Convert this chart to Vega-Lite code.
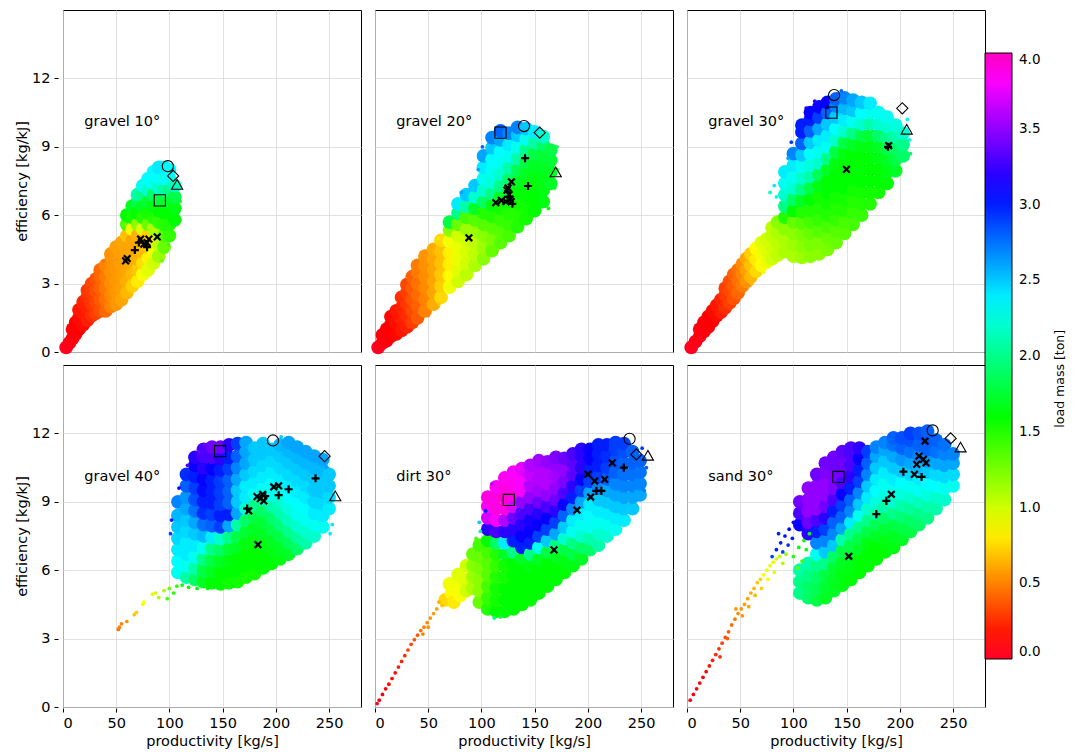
{
"$schema":"https://vega.github.io/schema/vega-lite/v6.json",
"background":"white",
"padding":{"left":14,"top":9,"right":5,"bottom":5},
"title":{"text":"load mass [ton]","orient":"right","angle":-90,"anchor":"middle","offset":6,"fontSize":12.5,"font":"DejaVu Sans","fontWeight":"normal","color":"black","baseline":"middle"},
"data":{"values":[
{"p":"a","x":20,"y":10.1,"t":"gravel 10°"},{"p":"b","x":20,"y":10.1,"t":"gravel 20°"},{"p":"c","x":20,"y":10.1,"t":"gravel 30°"},{"p":"d","x":20,"y":10.1,"t":"gravel 40°"},{"p":"e","x":20,"y":10.1,"t":"dirt 30°"},{"p":"f","x":20,"y":10.1,"t":"sand 30°"},
{"p":"a","x":3,"y":0.2,"m":0.03},{"p":"a","x":6,"y":0.4,"m":0.05},{"p":"a","x":9,"y":0.6,"m":0.08},{"p":"a","x":9,"y":1.0,"m":0.1},{"p":"a","x":12,"y":0.8,"m":0.1},{"p":"a","x":12,"y":1.3,"m":0.12},
{"p":"a","x":15,"y":1.0,"m":0.12},{"p":"a","x":15,"y":1.5,"m":0.15},{"p":"a","x":15,"y":1.85,"m":0.18},
{"p":"a","x":19,"y":1.2,"m":0.15},{"p":"a","x":19,"y":1.7,"m":0.18},{"p":"a","x":19,"y":2.2,"m":0.22},
{"p":"a","x":23,"y":1.4,"m":0.2},{"p":"a","x":23,"y":1.9,"m":0.22},{"p":"a","x":23,"y":2.4,"m":0.26},{"p":"a","x":23,"y":2.7,"m":0.28},
{"p":"a","x":27,"y":1.6,"m":0.25},{"p":"a","x":27,"y":2.1,"m":0.28},{"p":"a","x":27,"y":2.6,"m":0.3},{"p":"a","x":27,"y":3.0,"m":0.32},
{"p":"a","x":31,"y":1.7,"m":0.3},{"p":"a","x":31,"y":2.2,"m":0.32},{"p":"a","x":31,"y":2.7,"m":0.35},{"p":"a","x":31,"y":3.2,"m":0.36},
{"p":"a","x":35,"y":1.8,"m":0.35},{"p":"a","x":35,"y":2.3,"m":0.38},{"p":"a","x":35,"y":2.8,"m":0.4},{"p":"a","x":35,"y":3.3,"m":0.42},{"p":"a","x":35,"y":3.6,"m":0.42},
{"p":"a","x":40,"y":1.8,"m":0.42},{"p":"a","x":40,"y":2.3,"m":0.45},{"p":"a","x":40,"y":2.8,"m":0.47},{"p":"a","x":40,"y":3.3,"m":0.48},{"p":"a","x":40,"y":3.8,"m":0.5},
{"p":"a","x":45,"y":2.0,"m":0.5},{"p":"a","x":45,"y":2.5,"m":0.52},{"p":"a","x":45,"y":3.0,"m":0.53},{"p":"a","x":45,"y":3.5,"m":0.54},{"p":"a","x":45,"y":4.0,"m":0.55},{"p":"a","x":45,"y":4.3,"m":0.55},
{"p":"a","x":50,"y":2.1,"m":0.56},{"p":"a","x":50,"y":2.6,"m":0.56},{"p":"a","x":50,"y":3.1,"m":0.56},{"p":"a","x":50,"y":3.6,"m":0.56},{"p":"a","x":50,"y":4.1,"m":0.56},{"p":"a","x":50,"y":4.6,"m":0.58},
{"p":"a","x":55,"y":2.3,"m":0.6},{"p":"a","x":55,"y":2.8,"m":0.58},{"p":"a","x":55,"y":3.3,"m":0.58},{"p":"a","x":55,"y":3.8,"m":0.58},{"p":"a","x":55,"y":4.3,"m":0.58},{"p":"a","x":55,"y":4.8,"m":0.6},
{"p":"a","x":60,"y":2.6,"m":0.66},{"p":"a","x":60,"y":3.1,"m":0.62},{"p":"a","x":60,"y":3.6,"m":0.6},{"p":"a","x":60,"y":4.1,"m":0.6},{"p":"a","x":60,"y":4.6,"m":0.6},{"p":"a","x":60,"y":5.1,"m":0.68},{"p":"a","x":60,"y":5.6,"m":1.4},{"p":"a","x":60,"y":6.0,"m":1.6},
{"p":"a","x":65,"y":2.9,"m":0.72},{"p":"a","x":65,"y":3.4,"m":0.66},{"p":"a","x":65,"y":3.9,"m":0.62},{"p":"a","x":65,"y":4.4,"m":0.6},{"p":"a","x":65,"y":4.9,"m":0.6},{"p":"a","x":65,"y":5.4,"m":0.9},{"p":"a","x":65,"y":5.9,"m":1.55},{"p":"a","x":65,"y":6.4,"m":1.7},
{"p":"a","x":70,"y":3.1,"m":0.8},{"p":"a","x":70,"y":3.6,"m":0.7},{"p":"a","x":70,"y":4.1,"m":0.64},{"p":"a","x":70,"y":4.6,"m":0.6},{"p":"a","x":70,"y":5.1,"m":0.64},{"p":"a","x":70,"y":5.6,"m":1.2},{"p":"a","x":70,"y":6.1,"m":1.6},{"p":"a","x":70,"y":6.6,"m":1.8},{"p":"a","x":70,"y":6.9,"m":2.1},
{"p":"a","x":75,"y":3.4,"m":0.88},{"p":"a","x":75,"y":3.9,"m":0.76},{"p":"a","x":75,"y":4.4,"m":0.66},{"p":"a","x":75,"y":4.9,"m":0.62},{"p":"a","x":75,"y":5.4,"m":0.95},{"p":"a","x":75,"y":5.9,"m":1.5},{"p":"a","x":75,"y":6.4,"m":1.7},{"p":"a","x":75,"y":6.9,"m":2.0},{"p":"a","x":75,"y":7.3,"m":2.3},
{"p":"a","x":80,"y":3.6,"m":0.95},{"p":"a","x":80,"y":4.1,"m":0.82},{"p":"a","x":80,"y":4.6,"m":0.7},{"p":"a","x":80,"y":5.1,"m":0.72},{"p":"a","x":80,"y":5.6,"m":1.3},{"p":"a","x":80,"y":6.1,"m":1.55},{"p":"a","x":80,"y":6.6,"m":1.75},{"p":"a","x":80,"y":7.1,"m":2.2},{"p":"a","x":80,"y":7.6,"m":2.35},
{"p":"a","x":85,"y":3.9,"m":1.0},{"p":"a","x":85,"y":4.4,"m":0.9},{"p":"a","x":85,"y":4.9,"m":0.8},{"p":"a","x":85,"y":5.4,"m":1.1},{"p":"a","x":85,"y":5.9,"m":1.5},{"p":"a","x":85,"y":6.4,"m":1.65},{"p":"a","x":85,"y":6.9,"m":1.9},{"p":"a","x":85,"y":7.4,"m":2.3},{"p":"a","x":85,"y":7.9,"m":2.35},
{"p":"a","x":90,"y":4.2,"m":1.15},{"p":"a","x":90,"y":4.7,"m":1.05},{"p":"a","x":90,"y":5.2,"m":1.1},{"p":"a","x":90,"y":5.7,"m":1.45},{"p":"a","x":90,"y":6.2,"m":1.6},{"p":"a","x":90,"y":6.7,"m":1.8},{"p":"a","x":90,"y":7.2,"m":2.2},{"p":"a","x":90,"y":7.7,"m":2.35},{"p":"a","x":90,"y":8.1,"m":2.4},
{"p":"a","x":95,"y":4.6,"m":1.3},{"p":"a","x":95,"y":5.1,"m":1.35},{"p":"a","x":95,"y":5.6,"m":1.5},{"p":"a","x":95,"y":6.1,"m":1.6},{"p":"a","x":95,"y":6.6,"m":1.75},{"p":"a","x":95,"y":7.1,"m":2.1},{"p":"a","x":95,"y":7.6,"m":2.3},{"p":"a","x":95,"y":8.1,"m":2.4},
{"p":"a","x":100,"y":5.1,"m":1.45},{"p":"a","x":100,"y":5.6,"m":1.5},{"p":"a","x":100,"y":6.1,"m":1.6},{"p":"a","x":100,"y":6.6,"m":1.7},{"p":"a","x":100,"y":7.1,"m":2.0},{"p":"a","x":100,"y":7.6,"m":2.3},{"p":"a","x":100,"y":8.0,"m":2.35},
{"p":"a","x":105,"y":5.8,"m":1.6},{"p":"a","x":105,"y":6.3,"m":1.65},{"p":"a","x":105,"y":6.8,"m":1.8},{"p":"a","x":105,"y":7.3,"m":2.15},
{"p":"a","x":38,"y":4.0,"n":0.45},{"p":"a","x":52,"y":4.9,"n":0.6},{"p":"a","x":57,"y":5.6,"n":1.3},{"p":"a","x":110,"y":6.6,"n":1.7},{"p":"a","x":99,"y":4.7,"n":1.4},{"p":"a","x":93,"y":4.0,"n":1.3},
{"p":"b","x":3,"y":0.2,"m":0.03},{"p":"b","x":7,"y":0.4,"m":0.06},{"p":"b","x":7,"y":0.75,"m":0.08},{"p":"b","x":11,"y":0.5,"m":0.08},{"p":"b","x":11,"y":1.0,"m":0.1},
{"p":"b","x":15,"y":0.7,"m":0.1},{"p":"b","x":15,"y":1.2,"m":0.12},{"p":"b","x":15,"y":1.55,"m":0.14},
{"p":"b","x":20,"y":0.8,"m":0.14},{"p":"b","x":20,"y":1.3,"m":0.16},{"p":"b","x":20,"y":1.8,"m":0.18},
{"p":"b","x":25,"y":0.95,"m":0.18},{"p":"b","x":25,"y":1.45,"m":0.2},{"p":"b","x":25,"y":1.95,"m":0.22},{"p":"b","x":25,"y":2.4,"m":0.25},
{"p":"b","x":30,"y":1.1,"m":0.22},{"p":"b","x":30,"y":1.6,"m":0.25},{"p":"b","x":30,"y":2.1,"m":0.28},{"p":"b","x":30,"y":2.6,"m":0.3},{"p":"b","x":30,"y":2.95,"m":0.32},
{"p":"b","x":35,"y":1.3,"m":0.3},{"p":"b","x":35,"y":1.8,"m":0.33},{"p":"b","x":35,"y":2.3,"m":0.36},{"p":"b","x":35,"y":2.8,"m":0.38},{"p":"b","x":35,"y":3.3,"m":0.4},
{"p":"b","x":40,"y":1.5,"m":0.38},{"p":"b","x":40,"y":2.0,"m":0.4},{"p":"b","x":40,"y":2.5,"m":0.43},{"p":"b","x":40,"y":3.0,"m":0.45},{"p":"b","x":40,"y":3.5,"m":0.47},{"p":"b","x":40,"y":3.8,"m":0.48},
{"p":"b","x":47,"y":1.8,"m":0.5},{"p":"b","x":47,"y":2.3,"m":0.5},{"p":"b","x":47,"y":2.8,"m":0.52},{"p":"b","x":47,"y":3.3,"m":0.53},{"p":"b","x":47,"y":3.8,"m":0.54},{"p":"b","x":47,"y":4.2,"m":0.55},
{"p":"b","x":55,"y":2.1,"m":0.62},{"p":"b","x":55,"y":2.6,"m":0.6},{"p":"b","x":55,"y":3.1,"m":0.6},{"p":"b","x":55,"y":3.6,"m":0.6},{"p":"b","x":55,"y":4.1,"m":0.6},{"p":"b","x":55,"y":4.5,"m":0.62},
{"p":"b","x":62,"y":2.4,"m":0.75},{"p":"b","x":62,"y":2.9,"m":0.72},{"p":"b","x":62,"y":3.4,"m":0.7},{"p":"b","x":62,"y":3.9,"m":0.68},{"p":"b","x":62,"y":4.4,"m":0.68},{"p":"b","x":62,"y":4.9,"m":0.75},
{"p":"b","x":70,"y":2.85,"m":0.9},{"p":"b","x":70,"y":3.35,"m":0.85},{"p":"b","x":70,"y":3.85,"m":0.82},{"p":"b","x":70,"y":4.35,"m":0.82},{"p":"b","x":70,"y":4.85,"m":0.9},{"p":"b","x":70,"y":5.35,"m":1.2},{"p":"b","x":70,"y":5.7,"m":1.8},
{"p":"b","x":78,"y":3.1,"m":1.0},{"p":"b","x":78,"y":3.6,"m":0.95},{"p":"b","x":78,"y":4.1,"m":0.92},{"p":"b","x":78,"y":4.6,"m":0.92},{"p":"b","x":78,"y":5.1,"m":1.0},{"p":"b","x":78,"y":5.6,"m":1.3},{"p":"b","x":78,"y":6.1,"m":2.0},{"p":"b","x":78,"y":6.5,"m":2.4},
{"p":"b","x":86,"y":3.4,"m":1.05},{"p":"b","x":86,"y":3.9,"m":1.0},{"p":"b","x":86,"y":4.4,"m":0.98},{"p":"b","x":86,"y":4.9,"m":1.0},{"p":"b","x":86,"y":5.4,"m":1.15},{"p":"b","x":86,"y":5.9,"m":1.4},{"p":"b","x":86,"y":6.4,"m":2.1},{"p":"b","x":86,"y":6.9,"m":2.5},
{"p":"b","x":94,"y":3.8,"m":1.1},{"p":"b","x":94,"y":4.3,"m":1.05},{"p":"b","x":94,"y":4.8,"m":1.05},{"p":"b","x":94,"y":5.3,"m":1.15},{"p":"b","x":94,"y":5.8,"m":1.35},{"p":"b","x":94,"y":6.3,"m":1.7},{"p":"b","x":94,"y":6.8,"m":2.2},{"p":"b","x":94,"y":7.3,"m":2.5},
{"p":"b","x":102,"y":4.1,"m":1.2},{"p":"b","x":102,"y":4.6,"m":1.15},{"p":"b","x":102,"y":5.1,"m":1.2},{"p":"b","x":102,"y":5.6,"m":1.35},{"p":"b","x":102,"y":6.1,"m":1.5},{"p":"b","x":102,"y":6.6,"m":1.9},{"p":"b","x":102,"y":7.1,"m":2.2},{"p":"b","x":102,"y":7.6,"m":2.3},{"p":"b","x":102,"y":8.1,"m":2.4},{"p":"b","x":102,"y":8.6,"m":2.6},
{"p":"b","x":110,"y":4.45,"m":1.3},{"p":"b","x":110,"y":4.95,"m":1.25},{"p":"b","x":110,"y":5.45,"m":1.35},{"p":"b","x":110,"y":5.95,"m":1.5},{"p":"b","x":110,"y":6.45,"m":1.65},{"p":"b","x":110,"y":6.95,"m":2.0},{"p":"b","x":110,"y":7.45,"m":2.25},{"p":"b","x":110,"y":7.95,"m":2.3},{"p":"b","x":110,"y":8.45,"m":2.35},{"p":"b","x":110,"y":8.95,"m":2.5},{"p":"b","x":110,"y":9.4,"m":2.7},
{"p":"b","x":118,"y":4.8,"m":1.35},{"p":"b","x":118,"y":5.3,"m":1.35},{"p":"b","x":118,"y":5.8,"m":1.45},{"p":"b","x":118,"y":6.3,"m":1.55},{"p":"b","x":118,"y":6.8,"m":1.7},{"p":"b","x":118,"y":7.3,"m":2.0},{"p":"b","x":118,"y":7.8,"m":2.2},{"p":"b","x":118,"y":8.3,"m":2.3},{"p":"b","x":118,"y":8.8,"m":2.35},{"p":"b","x":118,"y":9.3,"m":2.6},{"p":"b","x":118,"y":9.7,"m":2.8},
{"p":"b","x":126,"y":5.1,"m":1.4},{"p":"b","x":126,"y":5.6,"m":1.45},{"p":"b","x":126,"y":6.1,"m":1.5},{"p":"b","x":126,"y":6.6,"m":1.6},{"p":"b","x":126,"y":7.1,"m":1.7},{"p":"b","x":126,"y":7.6,"m":1.9},{"p":"b","x":126,"y":8.1,"m":2.1},{"p":"b","x":126,"y":8.6,"m":2.3},{"p":"b","x":126,"y":9.1,"m":2.4},{"p":"b","x":126,"y":9.6,"m":2.7},
{"p":"b","x":134,"y":5.5,"m":1.5},{"p":"b","x":134,"y":6.0,"m":1.5},{"p":"b","x":134,"y":6.5,"m":1.55},{"p":"b","x":134,"y":7.0,"m":1.6},{"p":"b","x":134,"y":7.5,"m":1.7},{"p":"b","x":134,"y":8.0,"m":1.85},{"p":"b","x":134,"y":8.5,"m":2.1},{"p":"b","x":134,"y":9.0,"m":2.3},{"p":"b","x":134,"y":9.5,"m":2.5},{"p":"b","x":134,"y":9.85,"m":2.7},
{"p":"b","x":142,"y":5.85,"m":1.55},{"p":"b","x":142,"y":6.35,"m":1.55},{"p":"b","x":142,"y":6.85,"m":1.6},{"p":"b","x":142,"y":7.35,"m":1.65},{"p":"b","x":142,"y":7.85,"m":1.7},{"p":"b","x":142,"y":8.35,"m":1.8},{"p":"b","x":142,"y":8.85,"m":2.0},{"p":"b","x":142,"y":9.35,"m":2.3},{"p":"b","x":142,"y":9.8,"m":2.5},
{"p":"b","x":150,"y":6.2,"m":1.6},{"p":"b","x":150,"y":6.7,"m":1.6},{"p":"b","x":150,"y":7.2,"m":1.6},{"p":"b","x":150,"y":7.7,"m":1.65},{"p":"b","x":150,"y":8.2,"m":1.7},{"p":"b","x":150,"y":8.7,"m":1.8},{"p":"b","x":150,"y":9.2,"m":2.1},{"p":"b","x":150,"y":9.65,"m":2.4},
{"p":"b","x":158,"y":6.6,"m":1.65},{"p":"b","x":158,"y":7.1,"m":1.65},{"p":"b","x":158,"y":7.6,"m":1.65},{"p":"b","x":158,"y":8.1,"m":1.7},{"p":"b","x":158,"y":8.6,"m":1.75},{"p":"b","x":158,"y":9.1,"m":1.9},{"p":"b","x":158,"y":9.45,"m":2.2},
{"p":"b","x":165,"y":7.4,"m":1.7},{"p":"b","x":165,"y":7.9,"m":1.7},{"p":"b","x":165,"y":8.4,"m":1.75},{"p":"b","x":165,"y":8.85,"m":1.8},
{"p":"b","x":60,"y":5.0,"n":0.8},{"p":"b","x":67,"y":5.8,"n":1.8},{"p":"b","x":74,"y":6.4,"n":2.4},{"p":"b","x":81,"y":7.0,"n":2.6},{"p":"b","x":97,"y":8.0,"n":2.6},{"p":"b","x":101,"y":9.0,"n":2.8},{"p":"b","x":171,"y":8.0,"n":1.7},{"p":"b","x":171,"y":9.0,"n":1.8},{"p":"b","x":169,"y":7.2,"n":1.7},{"p":"b","x":163,"y":6.3,"n":1.6},{"p":"b","x":50,"y":1.6,"n":0.5},{"p":"b","x":60,"y":2.1,"n":0.7},
{"p":"c","x":4,"y":0.2,"m":0.03},{"p":"c","x":8,"y":0.45,"m":0.05},{"p":"c","x":12,"y":0.7,"m":0.06},{"p":"c","x":12,"y":1.0,"m":0.08},{"p":"c","x":16,"y":0.9,"m":0.08},{"p":"c","x":16,"y":1.3,"m":0.1},
{"p":"c","x":20,"y":1.1,"m":0.1},{"p":"c","x":20,"y":1.55,"m":0.12},{"p":"c","x":24,"y":1.35,"m":0.12},{"p":"c","x":24,"y":1.8,"m":0.15},{"p":"c","x":28,"y":1.6,"m":0.15},{"p":"c","x":28,"y":2.05,"m":0.18},
{"p":"c","x":32,"y":1.75,"m":0.2},{"p":"c","x":32,"y":2.3,"m":0.22},{"p":"c","x":36,"y":1.95,"m":0.25},{"p":"c","x":36,"y":2.5,"m":0.28},{"p":"c","x":36,"y":2.8,"m":0.3},
{"p":"c","x":40,"y":2.15,"m":0.3},{"p":"c","x":40,"y":2.7,"m":0.33},{"p":"c","x":40,"y":3.1,"m":0.35},{"p":"c","x":44,"y":2.35,"m":0.36},{"p":"c","x":44,"y":2.85,"m":0.38},{"p":"c","x":44,"y":3.4,"m":0.4},
{"p":"c","x":48,"y":2.6,"m":0.42},{"p":"c","x":48,"y":3.1,"m":0.44},{"p":"c","x":48,"y":3.6,"m":0.45},{"p":"c","x":52,"y":2.9,"m":0.48},{"p":"c","x":52,"y":3.4,"m":0.5},{"p":"c","x":52,"y":3.85,"m":0.52},
{"p":"c","x":56,"y":3.1,"m":0.55},{"p":"c","x":56,"y":3.6,"m":0.58},{"p":"c","x":56,"y":4.1,"m":0.6},{"p":"c","x":60,"y":3.3,"m":0.65},{"p":"c","x":60,"y":3.8,"m":0.68},{"p":"c","x":60,"y":4.3,"m":0.72},
{"p":"c","x":65,"y":3.55,"m":0.75},{"p":"c","x":65,"y":4.05,"m":0.8},{"p":"c","x":65,"y":4.55,"m":0.85},{"p":"c","x":70,"y":3.8,"m":0.85},{"p":"c","x":70,"y":4.3,"m":0.9},{"p":"c","x":70,"y":4.8,"m":0.95},
{"p":"c","x":75,"y":3.95,"m":0.92},{"p":"c","x":75,"y":4.45,"m":0.95},{"p":"c","x":75,"y":4.95,"m":1.0},{"p":"c","x":80,"y":4.1,"m":1.0},{"p":"c","x":80,"y":4.6,"m":1.0},{"p":"c","x":80,"y":5.1,"m":1.05},{"p":"c","x":80,"y":5.45,"m":1.05},
{"p":"c","x":85,"y":4.25,"m":1.05},{"p":"c","x":85,"y":4.75,"m":1.05},{"p":"c","x":85,"y":5.25,"m":1.1},{"p":"c","x":85,"y":5.7,"m":1.2},
{"p":"c","x":92,"y":4.4,"m":1.1},{"p":"c","x":92,"y":4.9,"m":1.1},{"p":"c","x":92,"y":5.4,"m":1.2},{"p":"c","x":92,"y":5.9,"m":1.5},{"p":"c","x":92,"y":6.4,"m":2.0},{"p":"c","x":92,"y":6.9,"m":2.2},{"p":"c","x":92,"y":7.4,"m":2.3},{"p":"c","x":92,"y":7.9,"m":2.4},
{"p":"c","x":100,"y":4.2,"m":1.1},{"p":"c","x":100,"y":4.7,"m":1.15},{"p":"c","x":100,"y":5.2,"m":1.2},{"p":"c","x":100,"y":5.7,"m":1.3},{"p":"c","x":100,"y":6.2,"m":1.6},{"p":"c","x":100,"y":6.7,"m":1.9},{"p":"c","x":100,"y":7.2,"m":2.2},{"p":"c","x":100,"y":7.7,"m":2.3},{"p":"c","x":100,"y":8.2,"m":2.4},{"p":"c","x":100,"y":8.7,"m":2.7},
{"p":"c","x":108,"y":4.15,"m":1.15},{"p":"c","x":108,"y":4.65,"m":1.2},{"p":"c","x":108,"y":5.15,"m":1.25},{"p":"c","x":108,"y":5.65,"m":1.35},{"p":"c","x":108,"y":6.15,"m":1.5},{"p":"c","x":108,"y":6.65,"m":1.7},{"p":"c","x":108,"y":7.15,"m":2.0},{"p":"c","x":108,"y":7.65,"m":2.2},{"p":"c","x":108,"y":8.15,"m":2.3},{"p":"c","x":108,"y":8.65,"m":2.5},{"p":"c","x":108,"y":9.15,"m":2.8},{"p":"c","x":108,"y":9.65,"m":3.0},{"p":"c","x":108,"y":9.95,"m":3.0},
{"p":"c","x":116,"y":4.2,"m":1.2},{"p":"c","x":116,"y":4.7,"m":1.25},{"p":"c","x":116,"y":5.2,"m":1.3},{"p":"c","x":116,"y":5.7,"m":1.4},{"p":"c","x":116,"y":6.2,"m":1.5},{"p":"c","x":116,"y":6.7,"m":1.6},{"p":"c","x":116,"y":7.2,"m":1.8},{"p":"c","x":116,"y":7.7,"m":2.1},{"p":"c","x":116,"y":8.2,"m":2.25},{"p":"c","x":116,"y":8.7,"m":2.35},{"p":"c","x":116,"y":9.2,"m":2.5},{"p":"c","x":116,"y":9.7,"m":2.8},{"p":"c","x":116,"y":10.2,"m":3.0},{"p":"c","x":116,"y":10.5,"m":3.1},
{"p":"c","x":124,"y":4.3,"m":1.2},{"p":"c","x":124,"y":4.8,"m":1.25},{"p":"c","x":124,"y":5.3,"m":1.35},{"p":"c","x":124,"y":5.8,"m":1.45},{"p":"c","x":124,"y":6.3,"m":1.5},{"p":"c","x":124,"y":6.8,"m":1.55},{"p":"c","x":124,"y":7.3,"m":1.65},{"p":"c","x":124,"y":7.8,"m":1.85},{"p":"c","x":124,"y":8.3,"m":2.2},{"p":"c","x":124,"y":8.8,"m":2.3},{"p":"c","x":124,"y":9.3,"m":2.4},{"p":"c","x":124,"y":9.8,"m":2.6},{"p":"c","x":124,"y":10.3,"m":2.9},{"p":"c","x":124,"y":10.75,"m":3.1},
{"p":"c","x":132,"y":4.5,"m":1.25},{"p":"c","x":132,"y":5.0,"m":1.3},{"p":"c","x":132,"y":5.5,"m":1.4},{"p":"c","x":132,"y":6.0,"m":1.5},{"p":"c","x":132,"y":6.5,"m":1.55},{"p":"c","x":132,"y":7.0,"m":1.6},{"p":"c","x":132,"y":7.5,"m":1.6},{"p":"c","x":132,"y":8.0,"m":1.7},{"p":"c","x":132,"y":8.5,"m":2.0},{"p":"c","x":132,"y":9.0,"m":2.3},{"p":"c","x":132,"y":9.5,"m":2.4},{"p":"c","x":132,"y":10.0,"m":2.5},{"p":"c","x":132,"y":10.5,"m":2.8},{"p":"c","x":132,"y":10.95,"m":3.1},
{"p":"c","x":140,"y":4.8,"m":1.3},{"p":"c","x":140,"y":5.3,"m":1.35},{"p":"c","x":140,"y":5.8,"m":1.45},{"p":"c","x":140,"y":6.3,"m":1.5},{"p":"c","x":140,"y":6.8,"m":1.55},{"p":"c","x":140,"y":7.3,"m":1.6},{"p":"c","x":140,"y":7.8,"m":1.6},{"p":"c","x":140,"y":8.3,"m":1.65},{"p":"c","x":140,"y":8.8,"m":1.8},{"p":"c","x":140,"y":9.3,"m":2.2},{"p":"c","x":140,"y":9.8,"m":2.35},{"p":"c","x":140,"y":10.3,"m":2.5},{"p":"c","x":140,"y":10.8,"m":2.7},{"p":"c","x":140,"y":11.1,"m":2.8},
{"p":"c","x":148,"y":5.2,"m":1.35},{"p":"c","x":148,"y":5.7,"m":1.4},{"p":"c","x":148,"y":6.2,"m":1.5},{"p":"c","x":148,"y":6.7,"m":1.55},{"p":"c","x":148,"y":7.2,"m":1.6},{"p":"c","x":148,"y":7.7,"m":1.6},{"p":"c","x":148,"y":8.2,"m":1.6},{"p":"c","x":148,"y":8.7,"m":1.65},{"p":"c","x":148,"y":9.2,"m":1.8},{"p":"c","x":148,"y":9.7,"m":2.2},{"p":"c","x":148,"y":10.2,"m":2.4},{"p":"c","x":148,"y":10.7,"m":2.55},{"p":"c","x":148,"y":11.15,"m":2.7},
{"p":"c","x":156,"y":5.6,"m":1.4},{"p":"c","x":156,"y":6.1,"m":1.45},{"p":"c","x":156,"y":6.6,"m":1.5},{"p":"c","x":156,"y":7.1,"m":1.55},{"p":"c","x":156,"y":7.6,"m":1.6},{"p":"c","x":156,"y":8.1,"m":1.6},{"p":"c","x":156,"y":8.6,"m":1.6},{"p":"c","x":156,"y":9.1,"m":1.7},{"p":"c","x":156,"y":9.6,"m":2.0},{"p":"c","x":156,"y":10.1,"m":2.3},{"p":"c","x":156,"y":10.6,"m":2.5},{"p":"c","x":156,"y":11.05,"m":2.6},
{"p":"c","x":164,"y":6.0,"m":1.45},{"p":"c","x":164,"y":6.5,"m":1.5},{"p":"c","x":164,"y":7.0,"m":1.55},{"p":"c","x":164,"y":7.5,"m":1.6},{"p":"c","x":164,"y":8.0,"m":1.6},{"p":"c","x":164,"y":8.5,"m":1.6},{"p":"c","x":164,"y":9.0,"m":1.65},{"p":"c","x":164,"y":9.5,"m":1.8},{"p":"c","x":164,"y":10.0,"m":2.2},{"p":"c","x":164,"y":10.5,"m":2.35},{"p":"c","x":164,"y":10.95,"m":2.5},
{"p":"c","x":172,"y":6.5,"m":1.5},{"p":"c","x":172,"y":7.0,"m":1.55},{"p":"c","x":172,"y":7.5,"m":1.6},{"p":"c","x":172,"y":8.0,"m":1.6},{"p":"c","x":172,"y":8.5,"m":1.6},{"p":"c","x":172,"y":9.0,"m":1.65},{"p":"c","x":172,"y":9.5,"m":1.75},{"p":"c","x":172,"y":10.0,"m":2.1},{"p":"c","x":172,"y":10.5,"m":2.3},{"p":"c","x":172,"y":10.9,"m":2.4},
{"p":"c","x":180,"y":7.0,"m":1.55},{"p":"c","x":180,"y":7.5,"m":1.6},{"p":"c","x":180,"y":8.0,"m":1.6},{"p":"c","x":180,"y":8.5,"m":1.65},{"p":"c","x":180,"y":9.0,"m":1.7},{"p":"c","x":180,"y":9.5,"m":1.9},{"p":"c","x":180,"y":10.0,"m":2.2},{"p":"c","x":180,"y":10.5,"m":2.3},
{"p":"c","x":188,"y":7.4,"m":1.6},{"p":"c","x":188,"y":7.9,"m":1.65},{"p":"c","x":188,"y":8.4,"m":1.7},{"p":"c","x":188,"y":8.9,"m":1.8},{"p":"c","x":188,"y":9.4,"m":2.0},{"p":"c","x":188,"y":9.9,"m":2.2},{"p":"c","x":188,"y":10.3,"m":2.3},
{"p":"c","x":196,"y":7.95,"m":1.7},{"p":"c","x":196,"y":8.45,"m":1.8},{"p":"c","x":196,"y":8.95,"m":1.9},{"p":"c","x":196,"y":9.45,"m":2.1},{"p":"c","x":196,"y":9.95,"m":2.25},
{"p":"c","x":203,"y":8.6,"m":1.9},{"p":"c","x":203,"y":9.1,"m":2.0},{"p":"c","x":203,"y":9.6,"m":2.2},
{"p":"c","x":78,"y":7.0,"n":2.2},{"p":"c","x":84,"y":6.8,"n":2.3},{"p":"c","x":88,"y":7.5,"n":2.3},{"p":"c","x":82,"y":7.3,"n":2.4},{"p":"c","x":95,"y":8.5,"n":2.6},{"p":"c","x":98,"y":9.2,"n":2.9},{"p":"c","x":104,"y":10.0,"n":3.0},{"p":"c","x":112,"y":10.7,"n":3.1},{"p":"c","x":120,"y":11.0,"n":3.2},{"p":"c","x":145,"y":11.45,"n":2.8},{"p":"c","x":209,"y":9.3,"n":2.2},{"p":"c","x":210,"y":8.7,"n":1.9},{"p":"c","x":207,"y":10.2,"n":2.3},{"p":"c","x":61,"y":3.0,"n":0.65},{"p":"c","x":72,"y":3.5,"n":0.9},{"p":"c","x":45,"y":2.2,"n":0.35},
{"p":"d","x":108,"y":5.9,"m":2.3},{"p":"d","x":108,"y":6.4,"m":2.35},{"p":"d","x":108,"y":6.9,"m":2.4},{"p":"d","x":108,"y":7.4,"m":2.45},{"p":"d","x":108,"y":7.9,"m":2.5},{"p":"d","x":108,"y":8.4,"m":2.55},{"p":"d","x":108,"y":9.0,"m":2.7},
{"p":"d","x":116,"y":5.7,"m":2.1},{"p":"d","x":116,"y":6.2,"m":2.3},{"p":"d","x":116,"y":6.7,"m":2.4},{"p":"d","x":116,"y":7.2,"m":2.4},{"p":"d","x":116,"y":7.7,"m":2.45},{"p":"d","x":116,"y":8.2,"m":2.5},{"p":"d","x":116,"y":8.7,"m":2.6},{"p":"d","x":116,"y":9.2,"m":2.65},{"p":"d","x":116,"y":9.7,"m":2.8},{"p":"d","x":116,"y":10.2,"m":2.95},
{"p":"d","x":124,"y":5.6,"m":1.9},{"p":"d","x":124,"y":6.1,"m":2.1},{"p":"d","x":124,"y":6.6,"m":2.3},{"p":"d","x":124,"y":7.1,"m":2.4},{"p":"d","x":124,"y":7.6,"m":2.5},{"p":"d","x":124,"y":8.1,"m":2.6},{"p":"d","x":124,"y":8.6,"m":2.75},{"p":"d","x":124,"y":9.1,"m":2.85},{"p":"d","x":124,"y":9.6,"m":2.9},{"p":"d","x":124,"y":10.1,"m":3.0},{"p":"d","x":124,"y":10.6,"m":3.1},{"p":"d","x":124,"y":10.95,"m":3.2},
{"p":"d","x":132,"y":5.5,"m":1.7},{"p":"d","x":132,"y":6.0,"m":1.8},{"p":"d","x":132,"y":6.5,"m":2.0},{"p":"d","x":132,"y":7.0,"m":2.3},{"p":"d","x":132,"y":7.5,"m":2.55},{"p":"d","x":132,"y":8.0,"m":2.75},{"p":"d","x":132,"y":8.5,"m":2.95},{"p":"d","x":132,"y":9.0,"m":3.0},{"p":"d","x":132,"y":9.5,"m":3.05},{"p":"d","x":132,"y":10.0,"m":3.1},{"p":"d","x":132,"y":10.5,"m":3.2},{"p":"d","x":132,"y":11.0,"m":3.3},{"p":"d","x":132,"y":11.3,"m":3.3},
{"p":"d","x":140,"y":5.45,"m":1.6},{"p":"d","x":140,"y":5.95,"m":1.7},{"p":"d","x":140,"y":6.45,"m":1.8},{"p":"d","x":140,"y":6.95,"m":2.0},{"p":"d","x":140,"y":7.45,"m":2.4},{"p":"d","x":140,"y":7.95,"m":2.8},{"p":"d","x":140,"y":8.45,"m":2.9},{"p":"d","x":140,"y":8.95,"m":3.0},{"p":"d","x":140,"y":9.45,"m":3.0},{"p":"d","x":140,"y":9.95,"m":3.0},{"p":"d","x":140,"y":10.45,"m":3.1},{"p":"d","x":140,"y":10.95,"m":3.3},{"p":"d","x":140,"y":11.4,"m":3.4},
{"p":"d","x":148,"y":5.4,"m":1.6},{"p":"d","x":148,"y":5.9,"m":1.6},{"p":"d","x":148,"y":6.4,"m":1.7},{"p":"d","x":148,"y":6.9,"m":1.9},{"p":"d","x":148,"y":7.4,"m":2.2},{"p":"d","x":148,"y":7.9,"m":2.9},{"p":"d","x":148,"y":8.4,"m":3.0},{"p":"d","x":148,"y":8.9,"m":2.9},{"p":"d","x":148,"y":9.4,"m":2.9},{"p":"d","x":148,"y":9.9,"m":2.9},{"p":"d","x":148,"y":10.4,"m":3.0},{"p":"d","x":148,"y":10.9,"m":3.2},{"p":"d","x":148,"y":11.4,"m":3.4},
{"p":"d","x":156,"y":5.45,"m":1.55},{"p":"d","x":156,"y":5.95,"m":1.6},{"p":"d","x":156,"y":6.45,"m":1.65},{"p":"d","x":156,"y":6.95,"m":1.75},{"p":"d","x":156,"y":7.45,"m":2.0},{"p":"d","x":156,"y":7.95,"m":2.6},{"p":"d","x":156,"y":8.45,"m":3.0},{"p":"d","x":156,"y":8.95,"m":2.8},{"p":"d","x":156,"y":9.45,"m":2.8},{"p":"d","x":156,"y":9.95,"m":2.8},{"p":"d","x":156,"y":10.45,"m":2.9},{"p":"d","x":156,"y":10.95,"m":3.0},{"p":"d","x":156,"y":11.5,"m":3.2},
{"p":"d","x":164,"y":5.5,"m":1.55},{"p":"d","x":164,"y":6.0,"m":1.6},{"p":"d","x":164,"y":6.5,"m":1.6},{"p":"d","x":164,"y":7.0,"m":1.7},{"p":"d","x":164,"y":7.5,"m":1.8},{"p":"d","x":164,"y":8.0,"m":2.1},{"p":"d","x":164,"y":8.5,"m":2.6},{"p":"d","x":164,"y":9.0,"m":2.5},{"p":"d","x":164,"y":9.5,"m":2.5},{"p":"d","x":164,"y":10.0,"m":2.6},{"p":"d","x":164,"y":10.5,"m":2.7},{"p":"d","x":164,"y":11.0,"m":2.8},{"p":"d","x":164,"y":11.55,"m":2.9},
{"p":"d","x":172,"y":5.7,"m":1.55},{"p":"d","x":172,"y":6.2,"m":1.6},{"p":"d","x":172,"y":6.7,"m":1.6},{"p":"d","x":172,"y":7.2,"m":1.65},{"p":"d","x":172,"y":7.7,"m":1.75},{"p":"d","x":172,"y":8.2,"m":1.9},{"p":"d","x":172,"y":8.7,"m":2.2},{"p":"d","x":172,"y":9.2,"m":2.4},{"p":"d","x":172,"y":9.7,"m":2.4},{"p":"d","x":172,"y":10.2,"m":2.5},{"p":"d","x":172,"y":10.7,"m":2.6},{"p":"d","x":172,"y":11.2,"m":2.6},{"p":"d","x":172,"y":11.6,"m":2.6},
{"p":"d","x":180,"y":5.85,"m":1.55},{"p":"d","x":180,"y":6.35,"m":1.6},{"p":"d","x":180,"y":6.85,"m":1.6},{"p":"d","x":180,"y":7.35,"m":1.65},{"p":"d","x":180,"y":7.85,"m":1.7},{"p":"d","x":180,"y":8.35,"m":1.8},{"p":"d","x":180,"y":8.85,"m":2.0},{"p":"d","x":180,"y":9.35,"m":2.3},{"p":"d","x":180,"y":9.85,"m":2.4},{"p":"d","x":180,"y":10.35,"m":2.45},{"p":"d","x":180,"y":10.85,"m":2.5},{"p":"d","x":180,"y":11.35,"m":2.5},
{"p":"d","x":188,"y":6.1,"m":1.6},{"p":"d","x":188,"y":6.6,"m":1.6},{"p":"d","x":188,"y":7.1,"m":1.65},{"p":"d","x":188,"y":7.6,"m":1.7},{"p":"d","x":188,"y":8.1,"m":1.75},{"p":"d","x":188,"y":8.6,"m":1.9},{"p":"d","x":188,"y":9.1,"m":2.1},{"p":"d","x":188,"y":9.6,"m":2.3},{"p":"d","x":188,"y":10.1,"m":2.4},{"p":"d","x":188,"y":10.6,"m":2.45},{"p":"d","x":188,"y":11.1,"m":2.5},{"p":"d","x":188,"y":11.55,"m":2.5},
{"p":"d","x":196,"y":6.3,"m":1.6},{"p":"d","x":196,"y":6.8,"m":1.65},{"p":"d","x":196,"y":7.3,"m":1.7},{"p":"d","x":196,"y":7.8,"m":1.8},{"p":"d","x":196,"y":8.3,"m":1.9},{"p":"d","x":196,"y":8.8,"m":2.1},{"p":"d","x":196,"y":9.3,"m":2.3},{"p":"d","x":196,"y":9.8,"m":2.35},{"p":"d","x":196,"y":10.3,"m":2.4},{"p":"d","x":196,"y":10.8,"m":2.45},{"p":"d","x":196,"y":11.3,"m":2.5},
{"p":"d","x":204,"y":6.5,"m":1.65},{"p":"d","x":204,"y":7.0,"m":1.7},{"p":"d","x":204,"y":7.5,"m":1.8},{"p":"d","x":204,"y":8.0,"m":1.95},{"p":"d","x":204,"y":8.5,"m":2.1},{"p":"d","x":204,"y":9.0,"m":2.2},{"p":"d","x":204,"y":9.5,"m":2.3},{"p":"d","x":204,"y":10.0,"m":2.4},{"p":"d","x":204,"y":10.5,"m":2.45},{"p":"d","x":204,"y":11.0,"m":2.5},{"p":"d","x":204,"y":11.5,"m":2.55},
{"p":"d","x":212,"y":6.7,"m":1.7},{"p":"d","x":212,"y":7.2,"m":1.85},{"p":"d","x":212,"y":7.7,"m":2.0},{"p":"d","x":212,"y":8.2,"m":2.15},{"p":"d","x":212,"y":8.7,"m":2.25},{"p":"d","x":212,"y":9.2,"m":2.35},{"p":"d","x":212,"y":9.7,"m":2.4},{"p":"d","x":212,"y":10.2,"m":2.45},{"p":"d","x":212,"y":10.7,"m":2.5},{"p":"d","x":212,"y":11.2,"m":2.55},{"p":"d","x":212,"y":11.6,"m":2.6},
{"p":"d","x":220,"y":6.95,"m":1.9},{"p":"d","x":220,"y":7.45,"m":2.05},{"p":"d","x":220,"y":7.95,"m":2.2},{"p":"d","x":220,"y":8.45,"m":2.3},{"p":"d","x":220,"y":8.95,"m":2.35},{"p":"d","x":220,"y":9.45,"m":2.4},{"p":"d","x":220,"y":9.95,"m":2.45},{"p":"d","x":220,"y":10.45,"m":2.5},{"p":"d","x":220,"y":10.95,"m":2.55},{"p":"d","x":220,"y":11.4,"m":2.6},
{"p":"d","x":228,"y":7.2,"m":2.1},{"p":"d","x":228,"y":7.7,"m":2.2},{"p":"d","x":228,"y":8.2,"m":2.3},{"p":"d","x":228,"y":8.7,"m":2.35},{"p":"d","x":228,"y":9.2,"m":2.4},{"p":"d","x":228,"y":9.7,"m":2.45},{"p":"d","x":228,"y":10.2,"m":2.5},{"p":"d","x":228,"y":10.7,"m":2.55},{"p":"d","x":228,"y":11.2,"m":2.6},
{"p":"d","x":236,"y":7.5,"m":2.2},{"p":"d","x":236,"y":8.0,"m":2.3},{"p":"d","x":236,"y":8.5,"m":2.4},{"p":"d","x":236,"y":9.0,"m":2.45},{"p":"d","x":236,"y":9.5,"m":2.5},{"p":"d","x":236,"y":10.0,"m":2.5},{"p":"d","x":236,"y":10.5,"m":2.55},{"p":"d","x":236,"y":11.0,"m":2.6},
{"p":"d","x":244,"y":7.9,"m":2.3},{"p":"d","x":244,"y":8.4,"m":2.4},{"p":"d","x":244,"y":8.9,"m":2.45},{"p":"d","x":244,"y":9.4,"m":2.5},{"p":"d","x":244,"y":9.9,"m":2.5},{"p":"d","x":244,"y":10.4,"m":2.55},{"p":"d","x":244,"y":10.85,"m":2.6},
{"p":"d","x":250,"y":8.7,"m":2.4},{"p":"d","x":250,"y":9.2,"m":2.45},{"p":"d","x":250,"y":9.7,"m":2.5},{"p":"d","x":250,"y":10.2,"m":2.5},
{"p":"d","x":52,"y":3.4,"n":0.45},{"p":"d","x":53,"y":3.5,"n":0.5},{"p":"d","x":55,"y":3.65,"n":0.5},{"p":"d","x":60,"y":3.75,"n":0.55},{"p":"d","x":67,"y":4.05,"n":0.7},{"p":"d","x":69,"y":4.15,"n":0.72},{"p":"d","x":75,"y":4.5,"n":0.85},{"p":"d","x":76,"y":4.6,"n":0.85},{"p":"d","x":84,"y":4.95,"n":0.95},{"p":"d","x":87,"y":5.0,"n":1.0},{"p":"d","x":90,"y":4.8,"n":1.1},{"p":"d","x":95,"y":5.1,"n":1.1},{"p":"d","x":98,"y":4.75,"n":1.4},{"p":"d","x":100,"y":5.2,"n":1.3},{"p":"d","x":104,"y":5.0,"n":1.5},{"p":"d","x":107,"y":5.3,"n":1.45},{"p":"d","x":112,"y":5.35,"n":1.6},{"p":"d","x":118,"y":5.25,"n":1.6},{"p":"d","x":126,"y":5.2,"n":1.65},{"p":"d","x":136,"y":5.2,"n":1.6},{"p":"d","x":150,"y":5.3,"n":1.6},{"p":"d","x":160,"y":5.3,"n":1.6},{"p":"d","x":102,"y":8.2,"n":3.0},{"p":"d","x":101,"y":7.6,"n":2.9},{"p":"d","x":109,"y":9.6,"n":3.1},{"p":"d","x":117,"y":10.6,"n":3.3},{"p":"d","x":127,"y":11.2,"n":3.4},{"p":"d","x":133,"y":11.5,"n":3.4},{"p":"d","x":205,"y":11.85,"n":2.5},{"p":"d","x":247,"y":10.5,"n":2.6},{"p":"d","x":253,"y":8.0,"n":2.4},{"p":"d","x":251,"y":7.6,"n":2.4},
{"p":"e","x":66,"y":4.7,"m":0.75},{"p":"e","x":72,"y":5.0,"m":0.85},{"p":"e","x":78,"y":5.3,"m":0.9},{"p":"e","x":84,"y":5.6,"m":0.95},{"p":"e","x":74,"y":4.6,"m":0.8},{"p":"e","x":80,"y":4.9,"m":0.88},{"p":"e","x":86,"y":5.1,"m":1.0},{"p":"e","x":70,"y":5.4,"m":0.9},{"p":"e","x":78,"y":5.8,"m":0.95},{"p":"e","x":86,"y":6.2,"m":1.0},
{"p":"e","x":92,"y":5.2,"m":1.1},{"p":"e","x":92,"y":5.7,"m":1.15},{"p":"e","x":92,"y":6.2,"m":1.2},{"p":"e","x":92,"y":6.7,"m":1.3},
{"p":"e","x":98,"y":4.6,"m":1.3},{"p":"e","x":98,"y":5.1,"m":1.2},{"p":"e","x":98,"y":5.6,"m":1.2},{"p":"e","x":98,"y":6.1,"m":1.25},{"p":"e","x":98,"y":6.6,"m":1.3},{"p":"e","x":98,"y":7.1,"m":1.4},
{"p":"e","x":106,"y":4.3,"m":1.5},{"p":"e","x":106,"y":4.8,"m":1.45},{"p":"e","x":106,"y":5.3,"m":1.4},{"p":"e","x":106,"y":5.8,"m":1.35},{"p":"e","x":106,"y":6.3,"m":1.35},{"p":"e","x":106,"y":6.8,"m":1.4},{"p":"e","x":106,"y":7.3,"m":1.6},{"p":"e","x":106,"y":7.8,"m":3.2},{"p":"e","x":106,"y":8.3,"m":3.7},{"p":"e","x":106,"y":8.8,"m":3.85},{"p":"e","x":106,"y":9.2,"m":3.9},
{"p":"e","x":114,"y":4.2,"m":1.6},{"p":"e","x":114,"y":4.7,"m":1.55},{"p":"e","x":114,"y":5.2,"m":1.55},{"p":"e","x":114,"y":5.7,"m":1.5},{"p":"e","x":114,"y":6.2,"m":1.45},{"p":"e","x":114,"y":6.7,"m":1.5},{"p":"e","x":114,"y":7.2,"m":1.9},{"p":"e","x":114,"y":7.7,"m":3.3},{"p":"e","x":114,"y":8.2,"m":3.8},{"p":"e","x":114,"y":8.7,"m":3.9},{"p":"e","x":114,"y":9.2,"m":3.9},{"p":"e","x":114,"y":9.65,"m":3.85},
{"p":"e","x":122,"y":4.2,"m":1.6},{"p":"e","x":122,"y":4.7,"m":1.6},{"p":"e","x":122,"y":5.2,"m":1.6},{"p":"e","x":122,"y":5.7,"m":1.55},{"p":"e","x":122,"y":6.2,"m":1.55},{"p":"e","x":122,"y":6.7,"m":1.7},{"p":"e","x":122,"y":7.2,"m":2.4},{"p":"e","x":122,"y":7.7,"m":3.2},{"p":"e","x":122,"y":8.2,"m":3.6},{"p":"e","x":122,"y":8.7,"m":3.9},{"p":"e","x":122,"y":9.2,"m":3.95},{"p":"e","x":122,"y":9.7,"m":3.9},{"p":"e","x":122,"y":10.05,"m":3.85},
{"p":"e","x":130,"y":4.3,"m":1.6},{"p":"e","x":130,"y":4.8,"m":1.6},{"p":"e","x":130,"y":5.3,"m":1.6},{"p":"e","x":130,"y":5.8,"m":1.6},{"p":"e","x":130,"y":6.3,"m":1.6},{"p":"e","x":130,"y":6.8,"m":2.0},{"p":"e","x":130,"y":7.3,"m":3.0},{"p":"e","x":130,"y":7.8,"m":3.2},{"p":"e","x":130,"y":8.3,"m":3.4},{"p":"e","x":130,"y":8.8,"m":3.7},{"p":"e","x":130,"y":9.3,"m":3.9},{"p":"e","x":130,"y":9.8,"m":3.85},{"p":"e","x":130,"y":10.3,"m":3.8},
{"p":"e","x":138,"y":4.5,"m":1.6},{"p":"e","x":138,"y":5.0,"m":1.6},{"p":"e","x":138,"y":5.5,"m":1.6},{"p":"e","x":138,"y":6.0,"m":1.6},{"p":"e","x":138,"y":6.5,"m":1.7},{"p":"e","x":138,"y":7.0,"m":3.0},{"p":"e","x":138,"y":7.5,"m":3.1},{"p":"e","x":138,"y":8.0,"m":3.2},{"p":"e","x":138,"y":8.5,"m":3.3},{"p":"e","x":138,"y":9.0,"m":3.5},{"p":"e","x":138,"y":9.5,"m":3.8},{"p":"e","x":138,"y":10.0,"m":3.8},{"p":"e","x":138,"y":10.45,"m":3.75},
{"p":"e","x":146,"y":4.7,"m":1.6},{"p":"e","x":146,"y":5.2,"m":1.6},{"p":"e","x":146,"y":5.7,"m":1.6},{"p":"e","x":146,"y":6.2,"m":1.65},{"p":"e","x":146,"y":6.7,"m":2.0},{"p":"e","x":146,"y":7.2,"m":3.0},{"p":"e","x":146,"y":7.7,"m":3.1},{"p":"e","x":146,"y":8.2,"m":3.15},{"p":"e","x":146,"y":8.7,"m":3.3},{"p":"e","x":146,"y":9.2,"m":3.5},{"p":"e","x":146,"y":9.7,"m":3.6},{"p":"e","x":146,"y":10.2,"m":3.65},{"p":"e","x":146,"y":10.6,"m":3.6},
{"p":"e","x":154,"y":5.0,"m":1.6},{"p":"e","x":154,"y":5.5,"m":1.6},{"p":"e","x":154,"y":6.0,"m":1.6},{"p":"e","x":154,"y":6.5,"m":1.7},{"p":"e","x":154,"y":7.0,"m":2.3},{"p":"e","x":154,"y":7.5,"m":2.9},{"p":"e","x":154,"y":8.0,"m":3.1},{"p":"e","x":154,"y":8.5,"m":3.2},{"p":"e","x":154,"y":9.0,"m":3.4},{"p":"e","x":154,"y":9.5,"m":3.55},{"p":"e","x":154,"y":10.0,"m":3.6},{"p":"e","x":154,"y":10.5,"m":3.6},{"p":"e","x":154,"y":10.8,"m":3.55},
{"p":"e","x":162,"y":5.3,"m":1.6},{"p":"e","x":162,"y":5.8,"m":1.6},{"p":"e","x":162,"y":6.3,"m":1.6},{"p":"e","x":162,"y":6.8,"m":1.8},{"p":"e","x":162,"y":7.3,"m":2.5},{"p":"e","x":162,"y":7.8,"m":2.9},{"p":"e","x":162,"y":8.3,"m":3.1},{"p":"e","x":162,"y":8.8,"m":3.3},{"p":"e","x":162,"y":9.3,"m":3.5},{"p":"e","x":162,"y":9.8,"m":3.6},{"p":"e","x":162,"y":10.3,"m":3.6},{"p":"e","x":162,"y":10.75,"m":3.5},
{"p":"e","x":170,"y":5.6,"m":1.6},{"p":"e","x":170,"y":6.1,"m":1.6},{"p":"e","x":170,"y":6.6,"m":1.7},{"p":"e","x":170,"y":7.1,"m":2.0},{"p":"e","x":170,"y":7.6,"m":2.6},{"p":"e","x":170,"y":8.1,"m":2.9},{"p":"e","x":170,"y":8.6,"m":3.2},{"p":"e","x":170,"y":9.1,"m":3.4},{"p":"e","x":170,"y":9.6,"m":3.5},{"p":"e","x":170,"y":10.1,"m":3.55},{"p":"e","x":170,"y":10.6,"m":3.5},{"p":"e","x":170,"y":10.95,"m":3.45},
{"p":"e","x":178,"y":5.9,"m":1.6},{"p":"e","x":178,"y":6.4,"m":1.65},{"p":"e","x":178,"y":6.9,"m":1.8},{"p":"e","x":178,"y":7.4,"m":2.2},{"p":"e","x":178,"y":7.9,"m":2.5},{"p":"e","x":178,"y":8.4,"m":2.8},{"p":"e","x":178,"y":8.9,"m":3.1},{"p":"e","x":178,"y":9.4,"m":3.3},{"p":"e","x":178,"y":9.9,"m":3.45},{"p":"e","x":178,"y":10.4,"m":3.5},{"p":"e","x":178,"y":10.9,"m":3.4},
{"p":"e","x":186,"y":6.2,"m":1.65},{"p":"e","x":186,"y":6.7,"m":1.8},{"p":"e","x":186,"y":7.2,"m":2.0},{"p":"e","x":186,"y":7.7,"m":2.3},{"p":"e","x":186,"y":8.2,"m":2.4},{"p":"e","x":186,"y":8.7,"m":2.7},{"p":"e","x":186,"y":9.2,"m":3.0},{"p":"e","x":186,"y":9.7,"m":3.2},{"p":"e","x":186,"y":10.2,"m":3.35},{"p":"e","x":186,"y":10.7,"m":3.35},{"p":"e","x":186,"y":11.1,"m":3.3},
{"p":"e","x":194,"y":6.5,"m":1.7},{"p":"e","x":194,"y":7.0,"m":1.9},{"p":"e","x":194,"y":7.5,"m":2.2},{"p":"e","x":194,"y":8.0,"m":2.3},{"p":"e","x":194,"y":8.5,"m":2.4},{"p":"e","x":194,"y":9.0,"m":2.6},{"p":"e","x":194,"y":9.5,"m":2.9},{"p":"e","x":194,"y":10.0,"m":3.1},{"p":"e","x":194,"y":10.5,"m":3.2},{"p":"e","x":194,"y":11.0,"m":3.2},{"p":"e","x":194,"y":11.3,"m":3.2},
{"p":"e","x":202,"y":6.9,"m":1.9},{"p":"e","x":202,"y":7.4,"m":2.1},{"p":"e","x":202,"y":7.9,"m":2.3},{"p":"e","x":202,"y":8.4,"m":2.35},{"p":"e","x":202,"y":8.9,"m":2.4},{"p":"e","x":202,"y":9.4,"m":2.6},{"p":"e","x":202,"y":9.9,"m":2.9},{"p":"e","x":202,"y":10.4,"m":3.0},{"p":"e","x":202,"y":10.9,"m":3.1},{"p":"e","x":202,"y":11.3,"m":3.1},
{"p":"e","x":210,"y":7.1,"m":2.1},{"p":"e","x":210,"y":7.6,"m":2.2},{"p":"e","x":210,"y":8.1,"m":2.3},{"p":"e","x":210,"y":8.6,"m":2.4},{"p":"e","x":210,"y":9.1,"m":2.5},{"p":"e","x":210,"y":9.6,"m":2.7},{"p":"e","x":210,"y":10.1,"m":2.9},{"p":"e","x":210,"y":10.6,"m":3.0},{"p":"e","x":210,"y":11.1,"m":3.0},{"p":"e","x":210,"y":11.5,"m":3.0},
{"p":"e","x":218,"y":7.5,"m":2.2},{"p":"e","x":218,"y":8.0,"m":2.3},{"p":"e","x":218,"y":8.5,"m":2.4},{"p":"e","x":218,"y":9.0,"m":2.5},{"p":"e","x":218,"y":9.5,"m":2.6},{"p":"e","x":218,"y":10.0,"m":2.8},{"p":"e","x":218,"y":10.5,"m":2.9},{"p":"e","x":218,"y":11.0,"m":2.95},{"p":"e","x":218,"y":11.5,"m":3.0},
{"p":"e","x":226,"y":7.8,"m":2.3},{"p":"e","x":226,"y":8.3,"m":2.4},{"p":"e","x":226,"y":8.8,"m":2.5},{"p":"e","x":226,"y":9.3,"m":2.6},{"p":"e","x":226,"y":9.8,"m":2.7},{"p":"e","x":226,"y":10.3,"m":2.8},{"p":"e","x":226,"y":10.8,"m":2.85},{"p":"e","x":226,"y":11.3,"m":2.9},{"p":"e","x":226,"y":11.6,"m":2.9},
{"p":"e","x":234,"y":8.2,"m":2.4},{"p":"e","x":234,"y":8.7,"m":2.5},{"p":"e","x":234,"y":9.2,"m":2.6},{"p":"e","x":234,"y":9.7,"m":2.7},{"p":"e","x":234,"y":10.2,"m":2.75},{"p":"e","x":234,"y":10.7,"m":2.8},{"p":"e","x":234,"y":11.2,"m":2.85},{"p":"e","x":234,"y":11.55,"m":2.9},
{"p":"e","x":242,"y":8.7,"m":2.5},{"p":"e","x":242,"y":9.2,"m":2.6},{"p":"e","x":242,"y":9.7,"m":2.7},{"p":"e","x":242,"y":10.2,"m":2.75},{"p":"e","x":242,"y":10.7,"m":2.8},{"p":"e","x":242,"y":11.2,"m":2.8},
{"p":"e","x":249,"y":9.3,"m":2.6},{"p":"e","x":249,"y":9.8,"m":2.7},{"p":"e","x":249,"y":10.3,"m":2.75},{"p":"e","x":249,"y":10.8,"m":2.8},
{"p":"e","x":2,"y":0.15,"n":0.03},{"p":"e","x":4,"y":0.3,"n":0.05},{"p":"e","x":7,"y":0.55,"n":0.08},{"p":"e","x":10,"y":0.8,"n":0.1},{"p":"e","x":13,"y":1.0,"n":0.12},{"p":"e","x":16,"y":1.25,"n":0.14},{"p":"e","x":19,"y":1.5,"n":0.16},{"p":"e","x":22,"y":1.75,"n":0.2},{"p":"e","x":25,"y":2.0,"n":0.22},{"p":"e","x":28,"y":2.25,"n":0.25},{"p":"e","x":31,"y":2.5,"n":0.3},{"p":"e","x":34,"y":2.75,"n":0.33},{"p":"e","x":37,"y":2.95,"n":0.36},{"p":"e","x":40,"y":3.15,"n":0.4},{"p":"e","x":43,"y":3.35,"n":0.45},{"p":"e","x":46,"y":3.5,"n":0.5},{"p":"e","x":49,"y":3.7,"n":0.52},{"p":"e","x":52,"y":3.9,"n":0.55},{"p":"e","x":55,"y":4.1,"n":0.58},{"p":"e","x":58,"y":4.3,"n":0.6},{"p":"e","x":45,"y":3.2,"n":0.5},{"p":"e","x":50,"y":3.5,"n":0.55},{"p":"e","x":60,"y":4.6,"n":0.62},{"p":"e","x":63,"y":4.45,"n":0.68},{"p":"e","x":95,"y":7.4,"n":1.4},{"p":"e","x":99,"y":7.7,"n":2.0},{"p":"e","x":98,"y":8.1,"n":2.5},{"p":"e","x":104,"y":8.6,"n":3.0},{"p":"e","x":110,"y":9.8,"n":3.6},{"p":"e","x":253,"y":9.5,"n":2.7},{"p":"e","x":255,"y":10.5,"n":2.8},{"p":"e","x":251,"y":11.35,"n":2.9},{"p":"e","x":112,"y":3.9,"n":2.0},{"p":"e","x":118,"y":3.95,"n":1.8},
{"p":"f","x":106,"y":5.0,"m":2.0},{"p":"f","x":106,"y":5.5,"m":2.0},{"p":"f","x":106,"y":6.0,"m":2.1},{"p":"f","x":106,"y":8.0,"m":3.1},{"p":"f","x":106,"y":8.5,"m":3.3},{"p":"f","x":106,"y":9.0,"m":3.4},
{"p":"f","x":114,"y":4.8,"m":1.9},{"p":"f","x":114,"y":5.3,"m":1.9},{"p":"f","x":114,"y":5.8,"m":2.0},{"p":"f","x":114,"y":6.3,"m":2.1},{"p":"f","x":114,"y":7.6,"m":3.2},{"p":"f","x":114,"y":8.1,"m":3.4},{"p":"f","x":114,"y":8.6,"m":3.5},{"p":"f","x":114,"y":9.1,"m":3.5},{"p":"f","x":114,"y":9.6,"m":3.5},
{"p":"f","x":122,"y":4.7,"m":1.8},{"p":"f","x":122,"y":5.2,"m":1.85},{"p":"f","x":122,"y":5.7,"m":1.9},{"p":"f","x":122,"y":6.2,"m":2.0},{"p":"f","x":122,"y":6.7,"m":2.3},{"p":"f","x":122,"y":7.2,"m":2.7},{"p":"f","x":122,"y":7.7,"m":3.0},{"p":"f","x":122,"y":8.2,"m":3.3},{"p":"f","x":122,"y":8.7,"m":3.5},{"p":"f","x":122,"y":9.2,"m":3.5},{"p":"f","x":122,"y":9.7,"m":3.5},{"p":"f","x":122,"y":10.2,"m":3.4},
{"p":"f","x":130,"y":4.8,"m":1.7},{"p":"f","x":130,"y":5.3,"m":1.75},{"p":"f","x":130,"y":5.8,"m":1.8},{"p":"f","x":130,"y":6.3,"m":2.0},{"p":"f","x":130,"y":6.8,"m":2.5},{"p":"f","x":130,"y":7.3,"m":2.7},{"p":"f","x":130,"y":7.8,"m":2.9},{"p":"f","x":130,"y":8.3,"m":3.2},{"p":"f","x":130,"y":8.8,"m":3.4},{"p":"f","x":130,"y":9.3,"m":3.5},{"p":"f","x":130,"y":9.8,"m":3.5},{"p":"f","x":130,"y":10.3,"m":3.45},{"p":"f","x":130,"y":10.7,"m":3.4},
{"p":"f","x":138,"y":5.1,"m":1.7},{"p":"f","x":138,"y":5.6,"m":1.7},{"p":"f","x":138,"y":6.1,"m":1.75},{"p":"f","x":138,"y":6.6,"m":1.9},{"p":"f","x":138,"y":7.1,"m":2.5},{"p":"f","x":138,"y":7.6,"m":2.7},{"p":"f","x":138,"y":8.1,"m":2.8},{"p":"f","x":138,"y":8.6,"m":3.0},{"p":"f","x":138,"y":9.1,"m":3.3},{"p":"f","x":138,"y":9.6,"m":3.45},{"p":"f","x":138,"y":10.1,"m":3.45},{"p":"f","x":138,"y":10.6,"m":3.4},{"p":"f","x":138,"y":10.95,"m":3.4},
{"p":"f","x":146,"y":5.35,"m":1.65},{"p":"f","x":146,"y":5.85,"m":1.65},{"p":"f","x":146,"y":6.35,"m":1.7},{"p":"f","x":146,"y":6.85,"m":1.8},{"p":"f","x":146,"y":7.35,"m":2.1},{"p":"f","x":146,"y":7.85,"m":2.6},{"p":"f","x":146,"y":8.35,"m":2.8},{"p":"f","x":146,"y":8.85,"m":2.9},{"p":"f","x":146,"y":9.35,"m":3.1},{"p":"f","x":146,"y":9.85,"m":3.3},{"p":"f","x":146,"y":10.35,"m":3.4},{"p":"f","x":146,"y":10.85,"m":3.4},{"p":"f","x":146,"y":11.2,"m":3.35},
{"p":"f","x":154,"y":5.6,"m":1.6},{"p":"f","x":154,"y":6.1,"m":1.65},{"p":"f","x":154,"y":6.6,"m":1.7},{"p":"f","x":154,"y":7.1,"m":1.8},{"p":"f","x":154,"y":7.6,"m":2.0},{"p":"f","x":154,"y":8.1,"m":2.4},{"p":"f","x":154,"y":8.6,"m":2.7},{"p":"f","x":154,"y":9.1,"m":2.8},{"p":"f","x":154,"y":9.6,"m":3.0},{"p":"f","x":154,"y":10.1,"m":3.2},{"p":"f","x":154,"y":10.6,"m":3.3},{"p":"f","x":154,"y":11.1,"m":3.3},{"p":"f","x":154,"y":11.35,"m":3.3},
{"p":"f","x":162,"y":5.9,"m":1.6},{"p":"f","x":162,"y":6.4,"m":1.6},{"p":"f","x":162,"y":6.9,"m":1.7},{"p":"f","x":162,"y":7.4,"m":1.8},{"p":"f","x":162,"y":7.9,"m":2.0},{"p":"f","x":162,"y":8.4,"m":2.3},{"p":"f","x":162,"y":8.9,"m":2.5},{"p":"f","x":162,"y":9.4,"m":2.7},{"p":"f","x":162,"y":9.9,"m":2.9},{"p":"f","x":162,"y":10.4,"m":3.0},{"p":"f","x":162,"y":10.9,"m":3.1},{"p":"f","x":162,"y":11.35,"m":3.2},
{"p":"f","x":170,"y":6.2,"m":1.6},{"p":"f","x":170,"y":6.7,"m":1.6},{"p":"f","x":170,"y":7.2,"m":1.65},{"p":"f","x":170,"y":7.7,"m":1.8},{"p":"f","x":170,"y":8.2,"m":2.0},{"p":"f","x":170,"y":8.7,"m":2.2},{"p":"f","x":170,"y":9.2,"m":2.4},{"p":"f","x":170,"y":9.7,"m":2.5},{"p":"f","x":170,"y":10.2,"m":2.7},{"p":"f","x":170,"y":10.7,"m":2.8},{"p":"f","x":170,"y":11.2,"m":2.9},
{"p":"f","x":178,"y":6.5,"m":1.6},{"p":"f","x":178,"y":7.0,"m":1.6},{"p":"f","x":178,"y":7.5,"m":1.7},{"p":"f","x":178,"y":8.0,"m":1.85},{"p":"f","x":178,"y":8.5,"m":2.1},{"p":"f","x":178,"y":9.0,"m":2.25},{"p":"f","x":178,"y":9.5,"m":2.35},{"p":"f","x":178,"y":10.0,"m":2.4},{"p":"f","x":178,"y":10.5,"m":2.5},{"p":"f","x":178,"y":11.0,"m":2.6},{"p":"f","x":178,"y":11.4,"m":2.7},
{"p":"f","x":186,"y":6.8,"m":1.6},{"p":"f","x":186,"y":7.3,"m":1.65},{"p":"f","x":186,"y":7.8,"m":1.75},{"p":"f","x":186,"y":8.3,"m":1.9},{"p":"f","x":186,"y":8.8,"m":2.1},{"p":"f","x":186,"y":9.3,"m":2.25},{"p":"f","x":186,"y":9.8,"m":2.3},{"p":"f","x":186,"y":10.3,"m":2.4},{"p":"f","x":186,"y":10.8,"m":2.5},{"p":"f","x":186,"y":11.3,"m":2.6},{"p":"f","x":186,"y":11.6,"m":2.7},
{"p":"f","x":194,"y":7.0,"m":1.65},{"p":"f","x":194,"y":7.5,"m":1.7},{"p":"f","x":194,"y":8.0,"m":1.8},{"p":"f","x":194,"y":8.5,"m":2.0},{"p":"f","x":194,"y":9.0,"m":2.2},{"p":"f","x":194,"y":9.5,"m":2.3},{"p":"f","x":194,"y":10.0,"m":2.4},{"p":"f","x":194,"y":10.5,"m":2.5},{"p":"f","x":194,"y":11.0,"m":2.6},{"p":"f","x":194,"y":11.5,"m":2.75},{"p":"f","x":194,"y":11.8,"m":2.8},
{"p":"f","x":202,"y":7.35,"m":1.7},{"p":"f","x":202,"y":7.85,"m":1.8},{"p":"f","x":202,"y":8.35,"m":1.95},{"p":"f","x":202,"y":8.85,"m":2.1},{"p":"f","x":202,"y":9.35,"m":2.25},{"p":"f","x":202,"y":9.85,"m":2.35},{"p":"f","x":202,"y":10.35,"m":2.5},{"p":"f","x":202,"y":10.85,"m":2.65},{"p":"f","x":202,"y":11.35,"m":2.8},{"p":"f","x":202,"y":11.8,"m":2.85},
{"p":"f","x":210,"y":7.7,"m":1.8},{"p":"f","x":210,"y":8.2,"m":1.9},{"p":"f","x":210,"y":8.7,"m":2.05},{"p":"f","x":210,"y":9.2,"m":2.2},{"p":"f","x":210,"y":9.7,"m":2.3},{"p":"f","x":210,"y":10.2,"m":2.45},{"p":"f","x":210,"y":10.7,"m":2.6},{"p":"f","x":210,"y":11.2,"m":2.75},{"p":"f","x":210,"y":11.7,"m":2.85},{"p":"f","x":210,"y":12.0,"m":2.9},
{"p":"f","x":218,"y":8.0,"m":1.9},{"p":"f","x":218,"y":8.5,"m":2.0},{"p":"f","x":218,"y":9.0,"m":2.15},{"p":"f","x":218,"y":9.5,"m":2.3},{"p":"f","x":218,"y":10.0,"m":2.4},{"p":"f","x":218,"y":10.5,"m":2.55},{"p":"f","x":218,"y":11.0,"m":2.7},{"p":"f","x":218,"y":11.5,"m":2.8},{"p":"f","x":218,"y":12.0,"m":2.85},
{"p":"f","x":226,"y":8.3,"m":2.0},{"p":"f","x":226,"y":8.8,"m":2.1},{"p":"f","x":226,"y":9.3,"m":2.25},{"p":"f","x":226,"y":9.8,"m":2.35},{"p":"f","x":226,"y":10.3,"m":2.5},{"p":"f","x":226,"y":10.8,"m":2.65},{"p":"f","x":226,"y":11.3,"m":2.8},{"p":"f","x":226,"y":11.8,"m":2.85},{"p":"f","x":226,"y":12.1,"m":2.8},
{"p":"f","x":234,"y":8.7,"m":2.1},{"p":"f","x":234,"y":9.2,"m":2.2},{"p":"f","x":234,"y":9.7,"m":2.35},{"p":"f","x":234,"y":10.2,"m":2.45},{"p":"f","x":234,"y":10.7,"m":2.6},{"p":"f","x":234,"y":11.2,"m":2.75},{"p":"f","x":234,"y":11.7,"m":2.8},
{"p":"f","x":242,"y":9.1,"m":2.2},{"p":"f","x":242,"y":9.6,"m":2.3},{"p":"f","x":242,"y":10.1,"m":2.45},{"p":"f","x":242,"y":10.6,"m":2.6},{"p":"f","x":242,"y":11.1,"m":2.7},{"p":"f","x":242,"y":11.5,"m":2.75},
{"p":"f","x":250,"y":9.7,"m":2.3},{"p":"f","x":250,"y":10.2,"m":2.45},{"p":"f","x":250,"y":10.7,"m":2.6},{"p":"f","x":250,"y":11.1,"m":2.7},
{"p":"f","x":3,"y":0.3,"n":0.04},{"p":"f","x":6,"y":0.55,"n":0.06},{"p":"f","x":9,"y":0.8,"n":0.08},{"p":"f","x":12,"y":1.05,"n":0.1},{"p":"f","x":15,"y":1.3,"n":0.12},{"p":"f","x":18,"y":1.55,"n":0.14},{"p":"f","x":21,"y":1.8,"n":0.17},{"p":"f","x":24,"y":2.05,"n":0.2},{"p":"f","x":27,"y":2.3,"n":0.23},{"p":"f","x":30,"y":2.55,"n":0.26},{"p":"f","x":33,"y":2.8,"n":0.3},{"p":"f","x":36,"y":3.05,"n":0.34},{"p":"f","x":39,"y":3.3,"n":0.38},{"p":"f","x":42,"y":3.6,"n":0.42},{"p":"f","x":45,"y":3.85,"n":0.48},{"p":"f","x":31,"y":2.2,"n":0.25},{"p":"f","x":38,"y":3.0,"n":0.4},
{"p":"f","x":48,"y":4.1,"n":0.52},{"p":"f","x":51,"y":4.3,"n":0.55},{"p":"f","x":54,"y":4.5,"n":0.58},{"p":"f","x":57,"y":4.75,"n":0.6},{"p":"f","x":60,"y":5.0,"n":0.62},{"p":"f","x":63,"y":5.2,"n":0.65},{"p":"f","x":66,"y":5.45,"n":0.7},{"p":"f","x":69,"y":5.6,"n":0.72},{"p":"f","x":52,"y":4.0,"n":0.55},{"p":"f","x":58,"y":4.4,"n":0.6},{"p":"f","x":64,"y":4.9,"n":0.65},{"p":"f","x":70,"y":5.2,"n":0.72},{"p":"f","x":46,"y":4.3,"n":0.55},
{"p":"f","x":72,"y":5.8,"n":0.85},{"p":"f","x":75,"y":6.0,"n":0.9},{"p":"f","x":78,"y":6.2,"n":0.92},{"p":"f","x":81,"y":6.35,"n":0.95},{"p":"f","x":84,"y":6.5,"n":1.0},{"p":"f","x":87,"y":6.6,"n":1.05},{"p":"f","x":76,"y":5.6,"n":0.88},{"p":"f","x":82,"y":5.9,"n":0.95},{"p":"f","x":90,"y":6.3,"n":1.1},{"p":"f","x":93,"y":6.7,"n":1.15},
{"p":"f","x":84,"y":6.9,"n":3.0},{"p":"f","x":88,"y":7.2,"n":3.0},{"p":"f","x":92,"y":7.5,"n":3.05},{"p":"f","x":96,"y":7.8,"n":3.1},{"p":"f","x":100,"y":8.1,"n":3.15},{"p":"f","x":90,"y":6.8,"n":2.9},{"p":"f","x":95,"y":7.1,"n":2.95},{"p":"f","x":99,"y":7.4,"n":3.0},{"p":"f","x":103,"y":8.5,"n":3.3},{"p":"f","x":86,"y":7.6,"n":3.0},{"p":"f","x":80,"y":6.6,"n":2.9},
{"p":"f","x":100,"y":6.6,"n":1.5},{"p":"f","x":105,"y":7.0,"n":1.6},{"p":"f","x":110,"y":7.3,"n":1.6},{"p":"f","x":115,"y":7.6,"n":1.7},{"p":"f","x":108,"y":6.4,"n":1.4},{"p":"f","x":104,"y":6.1,"n":1.3},{"p":"f","x":112,"y":6.9,"n":1.65},
{"p":"a","x":98.5,"y":8.15,"s":"o"},{"p":"a","x":103.5,"y":7.72,"s":"d"},{"p":"a","x":107.2,"y":7.35,"s":"t"},{"p":"a","x":91,"y":6.65,"s":"sq"},{"p":"a","x":58.8,"y":4.0,"s":"x"},{"p":"a","x":60.3,"y":4.1,"s":"x"},{"p":"a","x":72.9,"y":4.95,"s":"x"},{"p":"a","x":76,"y":4.73,"s":"x"},{"p":"a","x":79,"y":4.8,"s":"x"},{"p":"a","x":80.7,"y":4.95,"s":"x"},{"p":"a","x":88.5,"y":5.05,"s":"x"},{"p":"a","x":67.5,"y":4.47,"s":"+"},{"p":"a","x":71.3,"y":4.8,"s":"+"},{"p":"a","x":79,"y":4.6,"s":"+"},
{"p":"b","x":117.9,"y":9.62,"s":"sq"},{"p":"b","x":140,"y":9.91,"s":"o"},{"p":"b","x":154.8,"y":9.62,"s":"d"},{"p":"b","x":169.8,"y":7.9,"s":"t"},{"p":"b","x":141,"y":8.5,"s":"+"},{"p":"b","x":143.8,"y":7.28,"s":"+"},{"p":"b","x":88.2,"y":5.01,"s":"x"},{"p":"b","x":128.2,"y":7.46,"s":"x"},{"p":"b","x":113.5,"y":6.55,"s":"x"},{"p":"b","x":118.8,"y":6.65,"s":"x"},{"p":"b","x":124,"y":7.1,"s":"x"},{"p":"b","x":126,"y":6.9,"s":"x"},{"p":"b","x":127,"y":6.7,"s":"x"},{"p":"b","x":123,"y":6.6,"s":"x"},{"p":"b","x":128,"y":6.6,"s":"x"},{"p":"b","x":125,"y":7.2,"s":"x"},{"p":"b","x":129,"y":6.5,"s":"+"},{"p":"b","x":125,"y":6.8,"s":"+"},
{"p":"c","x":138.2,"y":11.27,"s":"o"},{"p":"c","x":135.7,"y":10.5,"s":"sq"},{"p":"c","x":202.3,"y":10.69,"s":"d"},{"p":"c","x":206.4,"y":9.77,"s":"t"},{"p":"c","x":188.9,"y":9.0,"s":"+"},{"p":"c","x":189.5,"y":9.05,"s":"x"},{"p":"c","x":149.8,"y":8.01,"s":"x"},
{"p":"d","x":147.6,"y":11.22,"s":"sq"},{"p":"d","x":197.3,"y":11.69,"s":"o"},{"p":"d","x":245.8,"y":11.0,"s":"d"},{"p":"d","x":255.8,"y":9.26,"s":"t"},{"p":"d","x":237.3,"y":10.03,"s":"+"},{"p":"d","x":212,"y":9.55,"s":"+"},{"p":"d","x":202.6,"y":9.29,"s":"+"},{"p":"d","x":198,"y":9.65,"s":"x"},{"p":"d","x":202.6,"y":9.7,"s":"x"},{"p":"d","x":182.3,"y":9.23,"s":"x"},{"p":"d","x":187.6,"y":9.33,"s":"x"},{"p":"d","x":185.4,"y":9.14,"s":"x"},{"p":"d","x":188.6,"y":9.04,"s":"x"},{"p":"d","x":174.5,"y":8.6,"s":"x"},{"p":"d","x":183.2,"y":7.12,"s":"x"},{"p":"d","x":190,"y":9.25,"s":"+"},{"p":"d","x":173,"y":8.7,"s":"+"},
{"p":"e","x":239.2,"y":11.76,"s":"o"},{"p":"e","x":245.5,"y":11.08,"s":"d"},{"p":"e","x":256.4,"y":11.04,"s":"t"},{"p":"e","x":125.7,"y":9.08,"s":"sq"},{"p":"e","x":222.9,"y":10.71,"s":"x"},{"p":"e","x":233.8,"y":10.5,"s":"+"},{"p":"e","x":200.1,"y":10.2,"s":"x"},{"p":"e","x":206.4,"y":9.91,"s":"x"},{"p":"e","x":215.8,"y":9.98,"s":"x"},{"p":"e","x":212.7,"y":9.48,"s":"+"},{"p":"e","x":208,"y":9.48,"s":"+"},{"p":"e","x":202.6,"y":9.21,"s":"x"},{"p":"e","x":189.8,"y":8.63,"s":"x"},{"p":"e","x":168.2,"y":6.89,"s":"x"},
{"p":"f","x":230.8,"y":12.13,"s":"o"},{"p":"f","x":247.7,"y":11.78,"s":"d"},{"p":"f","x":257,"y":11.4,"s":"t"},{"p":"f","x":142.3,"y":10.09,"s":"sq"},{"p":"f","x":223.6,"y":11.66,"s":"x"},{"p":"f","x":218,"y":11.0,"s":"x"},{"p":"f","x":222.1,"y":10.86,"s":"x"},{"p":"f","x":224.6,"y":10.71,"s":"x"},{"p":"f","x":215.8,"y":10.64,"s":"x"},{"p":"f","x":203.3,"y":10.32,"s":"+"},{"p":"f","x":213.6,"y":10.2,"s":"x"},{"p":"f","x":220.4,"y":10.09,"s":"+"},{"p":"f","x":192,"y":9.33,"s":"x"},{"p":"f","x":187.3,"y":9.04,"s":"+"},{"p":"f","x":177.9,"y":8.46,"s":"+"},{"p":"f","x":152,"y":6.61,"s":"x"}
]},
"facet":{"field":"p","type":"nominal","title":null,"header":{"labels":false,"title":null,"labelExpr":"''","labelFontSize":0,"labelPadding":0}},
"columns":3,
"spacing":{"row":9,"column":8},
"spec":{
"width":298,"height":342,
"encoding":{
"x":{"field":"x","type":"quantitative","scale":{"domain":[0,280],"nice":false,"zero":false},"axis":{"values":[0,50,100,150,200,250],"title":"productivity [kg/s]"}},
"y":{"field":"y","type":"quantitative","scale":{"domain":[0,15],"nice":false,"zero":false},"axis":{"values":[0,3,6,9,12],"title":"efficiency [kg/kJ]"}}
},
"layer":[
{"transform":[{"filter":"isValid(datum.m)"}],"mark":{"type":"circle","size":190,"opacity":1},
"encoding":{"color":{"field":"m","type":"quantitative",
"scale":{"domain":[0,0.12,0.86,1.6,2.344,3.08,3.816,4],"range":["#ff0029","#ff0000","#ffff00","#00ff00","#00ffff","#0000ff","#ff00ff","#ff00bf"],"interpolate":"rgb"},
"legend":{"title":null,"orient":"none","legendX":922,"legendY":43,"direction":"vertical","gradientLength":606,"gradientThickness":27,"gradientStrokeColor":"black","gradientStrokeWidth":1,"values":[0,0.5,1,1.5,2,2.5,3,3.5,4],"format":".1f","labelFontSize":13.5,"labelOffset":7,"labelColor":"black","labelFont":"DejaVu Sans"}}}},
{"transform":[{"filter":"isValid(datum.n)"}],"mark":{"type":"circle","size":14,"opacity":1},
"encoding":{"color":{"field":"n","type":"quantitative"}}},
{"transform":[{"filter":"isValid(datum.s)"}],"mark":{"type":"point","filled":false,"color":"black","opacity":1},
"encoding":{"shape":{"field":"s","type":"nominal","scale":{"domain":["o","d","t","sq","x","+"],"range":["circle","diamond","triangle-up","square","M-1,-1L1,1M-1,1L1,-1","M0,-1.2L0,1.2M-1.2,0L1.2,0"]},"legend":null},
"size":{"condition":{"test":"datum.s=='x'||datum.s=='+'","value":45},"value":125},
"strokeWidth":{"condition":{"test":"datum.s=='x'||datum.s=='+'","value":2.2},"value":1.1}}},
{"transform":[{"filter":"isValid(datum.t)"}],"mark":{"type":"text","align":"left","baseline":"middle","fontSize":14.5,"font":"DejaVu Sans","color":"black"},
"encoding":{"text":{"field":"t","type":"nominal"}}}
]
},
"config":{
"font":"DejaVu Sans",
"header":{"labels":false,"title":null,"labelFontSize":0,"labelPadding":0},
"view":{"stroke":"black","strokeWidth":1},
"axis":{"grid":true,"gridColor":"#d9d9d9","gridWidth":0.8,"domain":false,"tickColor":"black","tickSize":4,"labelFont":"DejaVu Sans","labelFontSize":14.5,"labelColor":"black","labelPadding":4,"titleFont":"DejaVu Sans","titleFontSize":14.5,"titleFontWeight":"normal","titleColor":"black"},
"axisX":{"titlePadding":5},
"axisY":{"titlePadding":2}
}
}
